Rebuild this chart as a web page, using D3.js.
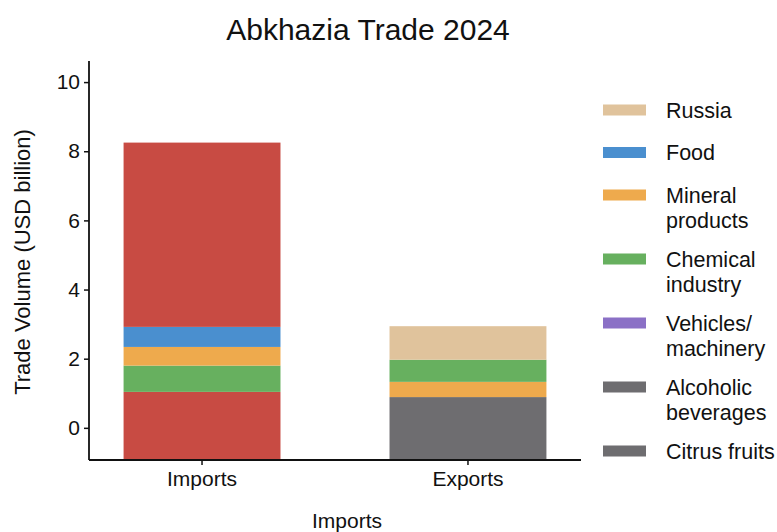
<!DOCTYPE html>
<html>
<head>
<meta charset="utf-8">
<script src="https://cdn.jsdelivr.net/npm/d3@7"></script>
<style>
body{margin:0;background:#fff;}
text{font-family:"Liberation Sans",Arial,Helvetica,sans-serif;fill:#111;}
</style>
</head>
<body>
<div id="chart"></div>
<script>
//データ
const categories = ["Imports","Exports"];
//下から上への積み上げ順
const importKeys   = ["Other","Chemical industry","Mineral products","Food","Other imports"];
const importValues = [1.04, 0.76, 0.54, 0.58, 5.33];
const exportKeys   = ["Citrus fruits","Mineral products","Chemical industry","Russia"];
const exportValues = [0.89, 0.44, 0.64, 0.97];
const legendKeys = ["Russia","Food","Mineral products","Chemical industry","Vehicles/ machinery","Alcoholic beverages","Citrus fruits"];
const legendLines = [["Russia"],["Food"],["Mineral","products"],["Chemical","industry"],["Vehicles/","machinery"],["Alcoholic","beverages"],["Citrus fruits"]];
const yTicks = [0,2,4,6,8,10];

const colors = {
	"Other":"#c84b43",
	"Other imports":"#c84b43",
	"Russia":"#e0c39c",
	"Food":"#4a8fcf",
	"Mineral products":"#eeaa4d",
	"Chemical industry":"#67b05f",
	"Vehicles/ machinery":"#8b70c6",
	"Alcoholic beverages":"#6e6d70",
	"Citrus fruits":"#6e6d70"
};

const width = 777, height = 532;
const svg = d3.select("#chart").append("svg")
	.attr("width", width)
	.attr("height", height);

const x = d3.scaleBand()
	.domain(categories)
	.range([89, 581])
	.paddingInner(0.41)
	.paddingOuter(0.13);

const y = d3.scaleLinear()
	.domain([-0.93, 10.61])
	.range([460, 61]);

//積み上げデータ作成
function stackUp(cat, keys, values){
	let acc = 0;
	return keys.map(function(k, i){
		let seg = {cat:cat, key:k, y0:(i==0 ? y.domain()[0] : acc), y1:acc+values[i]};
		acc += values[i];
		return seg;
	});
}
const segments = stackUp("Imports", importKeys, importValues)
	.concat(stackUp("Exports", exportKeys, exportValues));

svg.append("g").selectAll("rect")
	.data(segments)
	.enter()
	.append("rect")
	.attr("x", d => x(d.cat))
	.attr("width", x.bandwidth())
	.attr("y", d => y(d.y1))
	.attr("height", d => y(d.y0) - y(d.y1))
	.attr("fill", d => colors[d.key]);

//軸
const yAxis = svg.append("g")
	.attr("transform","translate(89,0)")
	.call(d3.axisLeft(y).tickValues(yTicks).tickSize(5).tickPadding(4));
const xAxis = svg.append("g")
	.attr("transform","translate(0,460)")
	.call(d3.axisBottom(x).tickSize(5).tickPadding(6));
[yAxis, xAxis].forEach(function(g){
	g.select(".domain").attr("stroke","#111").attr("stroke-width",1.8);
	g.selectAll(".tick line").attr("stroke","#111").attr("stroke-width",1.5);
	g.selectAll(".tick text").attr("font-size",21).attr("fill","#111")
		.style("font-family","'Liberation Sans',Arial,sans-serif");
});
xAxis.select(".domain").attr("d","M89,0H581");
yAxis.select(".domain").attr("d","M0,460V61");

//タイトル・軸ラベル
svg.append("text")
	.attr("x", 368).attr("y", 40)
	.attr("text-anchor","middle")
	.attr("font-size",30)
	.text("Abkhazia Trade 2024");
svg.append("text")
	.attr("transform","translate(30,262) rotate(-90)")
	.attr("text-anchor","middle")
	.attr("font-size",22)
	.text("Trade Volume (USD billion)");
svg.append("text")
	.attr("x", 347).attr("y", 528)
	.attr("text-anchor","middle")
	.attr("font-size",21)
	.text("Imports");

//凡例
const legend = svg.append("g");
let ly = 110;
legendKeys.forEach(function(k, i){
	legend.append("rect")
		.attr("x",603).attr("y",ly-5.5)
		.attr("width",43).attr("height",11)
		.attr("fill",colors[k]);
	let t = legend.append("text")
		.attr("x",666).attr("y",ly)
		.attr("font-size",21.5);
	legendLines[i].forEach(function(line, j){
		t.append("tspan").attr("x",666).attr("dy", j==0 ? "0.35em" : 25).text(line);
	});
	ly += 42.5 + (legendLines[i].length-1)*21.5;
});
</script>
</body>
</html>
